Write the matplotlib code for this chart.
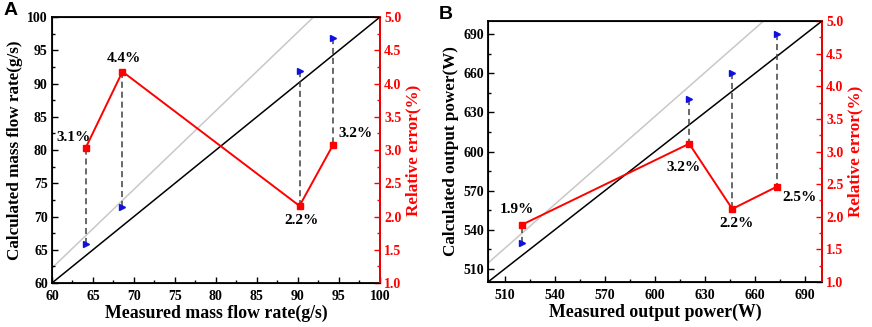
import matplotlib
matplotlib.use("Agg")
import matplotlib.pyplot as plt
from matplotlib.ticker import MultipleLocator, FormatStrFormatter

plt.rcParams['font.family'] = 'Liberation Serif'
plt.rcParams['font.weight'] = 'bold'

# panel A: mass flow rate
a_meas = [64.1, 68.6, 90.2, 94.3]
a_calc = [65.9, 71.4, 91.9, 96.9]
a_err = [3.03, 4.18, 2.16, 3.08]
a_labels = ["3.1%", "4.4%", "2.2%", "3.2%"]
a_label_xy = [(62.6, 3.19), (68.8, 4.375), (90.4, 1.94), (97.0, 3.25)]
a_grey = ([60, 91.9], [62.25, 100])

# panel B: output power
b_meas = [520.5, 620.5, 646.3, 672.9]
b_calc = [530, 640, 660, 690]
b_err = [1.88, 3.12, 2.12, 2.46]
b_labels = ["1.9%", "3.2%", "2.2%", "2.5%"]
b_label_xy = [(517.2, 2.11), (616.9, 2.76), (648.9, 1.89), (686.6, 2.30)]
b_grey = ([500, 665], [514.5, 700])
b_ticks = [510, 540, 570, 600, 630, 660, 690]

ylab2 = "Relative error(%)"


def draw_panel(ax, meas, calc, err, labels, label_xy, grey, lim, major, xlab, ylab, letter, ticks=None):
    lo, hi = lim
    ax.plot([lo, hi], [lo, hi], color='k', lw=1.1, zorder=2)
    ax.plot(grey[0], grey[1], color='#c8c8c8', lw=1.1, zorder=1)
    ax.plot(meas, calc, linestyle='none', marker='>', color='#1010e0', ms=5, zorder=4)
    ax.set_xlim(lo, hi)
    ax.set_ylim(lo, hi)
    if ticks is None:
        ax.xaxis.set_major_locator(MultipleLocator(major))
        ax.yaxis.set_major_locator(MultipleLocator(major))
    else:
        ax.set_xticks(ticks)
        ax.set_yticks(ticks)
    ax.xaxis.set_minor_locator(MultipleLocator(major / 2))
    ax.yaxis.set_minor_locator(MultipleLocator(major / 2))
    ax.tick_params(which='both', direction='in', labelsize=10, top=False, pad=3)
    ax.tick_params(axis='x', which='major', pad=5)
    ax.tick_params(which='major', length=4, width=1)
    ax.tick_params(which='minor', length=2.5, width=1)
    for s in ax.spines.values():
        s.set_linewidth(1.3)
    ax.set_xlabel(xlab, fontsize=12.8, fontweight='bold', labelpad=1)
    ax.set_ylabel(ylab, fontsize=12.3, fontweight='bold', labelpad=3)

    ax2 = ax.twinx()
    ax2.plot(meas, err, color='red', lw=1.4, marker='s', ms=5, zorder=3)
    ax2.set_ylim(1.0, 5.0)
    ax2.yaxis.set_major_locator(MultipleLocator(0.5))
    ax2.yaxis.set_minor_locator(MultipleLocator(0.25))
    ax2.yaxis.set_major_formatter(FormatStrFormatter('%.1f'))
    ax2.tick_params(which='both', direction='in', colors='red', labelsize=10, pad=3)
    ax2.tick_params(which='major', length=4, width=1)
    ax2.tick_params(which='minor', length=2.5, width=1)
    ax2.spines['right'].set_color('red')
    ax2.spines['right'].set_linewidth(1.3)
    ax2.set_ylabel(ylab2, fontsize=12.3, fontweight='bold', color='red', labelpad=3)

    # dashed connectors between error marker and calculated point
    for x, c, e in zip(meas, calc, err):
        e_data = ax.transData.inverted().transform(ax2.transData.transform((x, e)))[1]
        ax.plot([x, x], [c, e_data], color='#404040', lw=1.1, ls=(0, (4, 2.5)), zorder=3)

    for t, (x, y) in zip(labels, label_xy):
        ax2.text(x, y, t, fontsize=11, fontweight='bold', ha='center', va='center')

    ax.text(-0.148, 1.025, letter, transform=ax.transAxes, fontsize=14,
            fontweight='bold', family='Liberation Sans', ha='left', va='center')
    return ax2


fig = plt.figure(figsize=(8.72, 3.27), dpi=100)
axA = fig.add_axes([0.0596, 0.1346, 0.376, 0.813])
axB = fig.add_axes([0.5596, 0.1376, 0.383, 0.798])

draw_panel(axA, a_meas, a_calc, a_err, a_labels, a_label_xy, a_grey, (60, 100), 5,
           "Measured mass flow rate(g/s)", "Calculated mass flow rate(g/s)", "A")
draw_panel(axB, b_meas, b_calc, b_err, b_labels, b_label_xy, b_grey, (500, 700), 30,
           "Measured output power(W)", "Calculated output power(W)", "B", ticks=b_ticks)

fig.savefig("out.png", dpi=100)
